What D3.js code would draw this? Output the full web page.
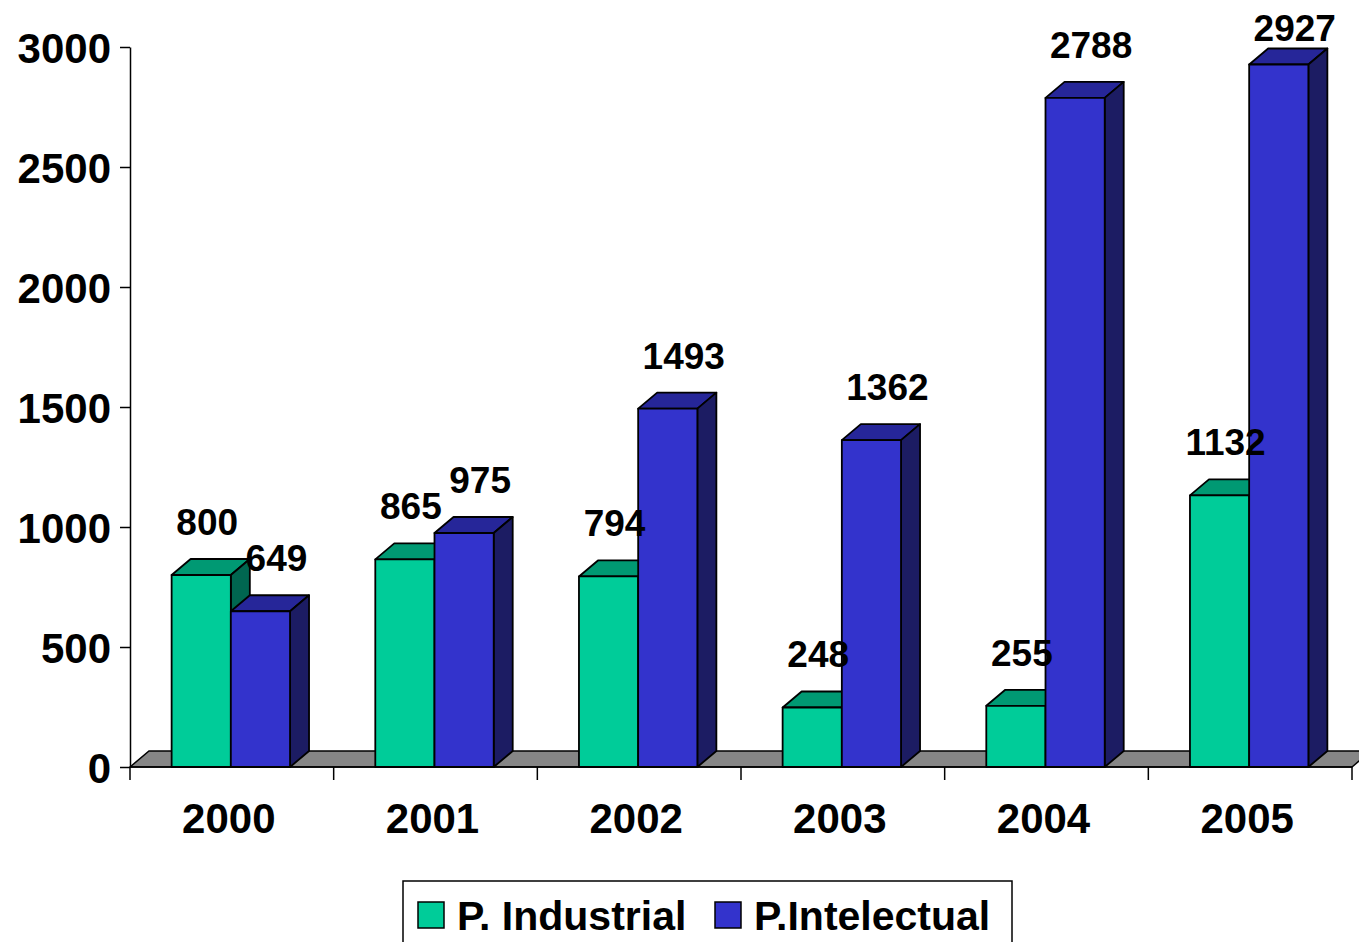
<!DOCTYPE html>
<html>
<head>
<meta charset="utf-8">
<script src="https://cdn.jsdelivr.net/npm/d3@7"></script>
<style>
  body { margin: 0; background: #fff; }
  text { font-family: "Liberation Sans", Arial, sans-serif; font-weight: bold; fill: #000; }
</style>
</head>
<body>
<svg id="svg"></svg>
<script>
// data
const years = ['2000', '2001', '2002', '2003', '2004', '2005'];
const seriesNames = ['P. Industrial', 'P.Intelectual'];
const industrial = [800, 865, 794, 248, 255, 1132];
const intelectual = [649, 975, 1493, 1362, 2788, 2927];
const yTicks = [0, 500, 1000, 1500, 2000, 2500, 3000];

const colors = {
  'P. Industrial': { front: '#00cc99', top: '#009973', side: '#006650' },
  'P.Intelectual': { front: '#3333cc', top: '#262699', side: '#1c1c63' }
};

const width = 1359;
const height = 942;
const depthX = 19;
const depthY = -16;

const svg = d3.select('#svg')
  .attr('width', width)
  .attr('height', height);

const y = d3.scaleLinear().domain([0, 3000]).range([767, 47]);
const x = d3.scaleBand().domain(years).range([130, 1352]);
const xInner = d3.scaleBand().domain(seriesNames)
  .range([0, x.bandwidth()])
  .paddingInner(0)
  .paddingOuter(0.72);

// floor
const x0 = x.range()[0], x1 = x.range()[1], y0 = y(0);
svg.append('path')
  .attr('d', `M${x0},${y0}L${x0 + depthX},${y0 + depthY}L${x1 + depthX},${y0 + depthY}L${x1},${y0}Z`)
  .attr('fill', '#868686')
  .attr('stroke', '#000')
  .attr('stroke-width', 1.5);

// y axis
const yAxis = svg.append('g')
  .attr('transform', `translate(${x0},0)`)
  .call(d3.axisLeft(y).tickValues(yTicks).tickFormat(d3.format('d'))
    .tickSizeInner(10).tickSizeOuter(0).tickPadding(9));
yAxis.select('.domain').attr('stroke', '#000').attr('stroke-width', 1.5);
yAxis.selectAll('.tick line').attr('stroke', '#000').attr('stroke-width', 1.5);
yAxis.selectAll('.tick text')
  .style('font-size', '42px')
  .style('font-family', '"Liberation Sans", Arial, sans-serif')
  .style('font-weight', 'bold')
  .attr('dy', '0.36em');

// x axis line + ticks at band boundaries
svg.append('line')
  .attr('x1', x0).attr('x2', x1).attr('y1', y0).attr('y2', y0)
  .attr('stroke', '#000').attr('stroke-width', 1.5);
const bounds = years.map(d => x(d)).concat([x1]);
svg.selectAll('.xtick').data(bounds).enter().append('line')
  .attr('class', 'xtick')
  .attr('x1', d => d).attr('x2', d => d)
  .attr('y1', y0).attr('y2', y0 + 13)
  .attr('stroke', '#000').attr('stroke-width', 1.5);
svg.selectAll('.xlabel').data(years).enter().append('text')
  .attr('class', 'xlabel')
  .attr('x', d => x(d) + x.bandwidth() / 2 - 3)
  .attr('y', 833)
  .attr('text-anchor', 'middle')
  .style('font-size', '42px')
  .text(d => d);

// bars
const rows = [];
years.forEach((yr, i) => {
  rows.push({ year: yr, series: seriesNames[0], value: industrial[i] });
  rows.push({ year: yr, series: seriesNames[1], value: intelectual[i] });
});

const bars = svg.selectAll('.bar').data(rows).enter().append('g').attr('class', 'bar');

const bx = d => x(d.year) + xInner(d.series) - 1;
const bw = xInner.bandwidth();

bars.append('path') // top
  .attr('d', d => {
    const l = bx(d), r = l + bw, t = y(d.value);
    return `M${l},${t}L${l + depthX},${t + depthY}L${r + depthX},${t + depthY}L${r},${t}Z`;
  })
  .attr('fill', d => colors[d.series].top);
bars.append('path') // side
  .attr('d', d => {
    const r = bx(d) + bw, t = y(d.value);
    return `M${r},${t}L${r + depthX},${t + depthY}L${r + depthX},${y0 + depthY}L${r},${y0}Z`;
  })
  .attr('fill', d => colors[d.series].side);
bars.append('rect') // front
  .attr('x', d => bx(d))
  .attr('y', d => y(d.value))
  .attr('width', bw)
  .attr('height', d => y0 - y(d.value))
  .attr('fill', d => colors[d.series].front);
bars.selectAll('path, rect')
  .attr('stroke', '#000')
  .attr('stroke-width', 1.8)
  .attr('stroke-linejoin', 'round');

// value labels, drawn on top of all bars
svg.append('g').selectAll('text').data(rows).enter().append('text')
  .attr('x', d => bx(d) + bw / 2 + (d.series === seriesNames[0] ? 6 : 16))
  .attr('y', d => Math.max(41, y(d.value) + depthY - 24))
  .attr('text-anchor', 'middle')
  .style('font-size', '37px')
  .text(d => d.value);

// legend
const legend = svg.append('g');
legend.append('rect')
  .attr('x', 403).attr('y', 881)
  .attr('width', 609).attr('height', 80)
  .attr('fill', '#fff').attr('stroke', '#000').attr('stroke-width', 1.5);
const legendX = [418, 715];
seriesNames.forEach((s, i) => {
  legend.append('rect')
    .attr('x', legendX[i]).attr('y', 902)
    .attr('width', 26).attr('height', 26)
    .attr('fill', colors[s].front)
    .attr('stroke', '#000').attr('stroke-width', 1.5);
  legend.append('text')
    .attr('x', legendX[i] + 39).attr('y', 930)
    .style('font-size', '41px')
    .text(s);
});
</script>
</body>
</html>
